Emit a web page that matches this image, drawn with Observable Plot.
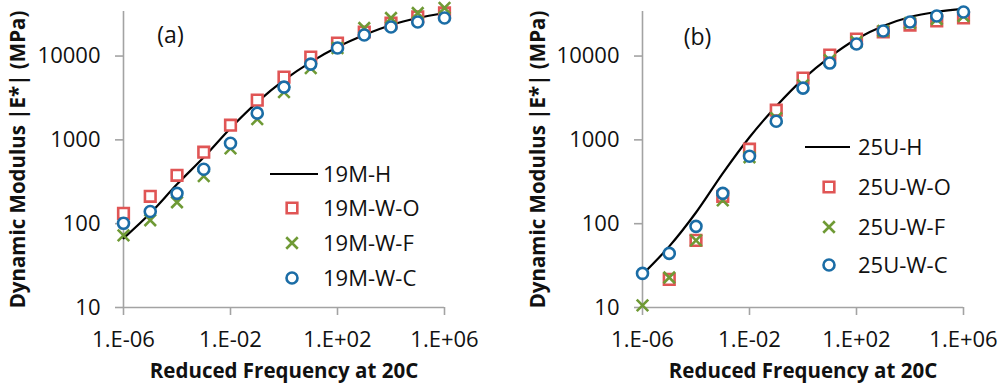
<!DOCTYPE html>
<html><head><meta charset="utf-8">
<script src="https://cdn.jsdelivr.net/npm/d3@7"></script>
<script src="https://cdn.jsdelivr.net/npm/@observablehq/plot@0.6"></script>
<style>
html,body{margin:0;padding:0;background:#fff;}
#wrap{position:relative;width:1003px;height:389px;overflow:hidden;background:#fff;}
#pa,#pb{position:absolute;top:0;}
#pa{left:0;} #pb{left:501px;}
</style></head><body><div id="wrap"><div id="pa"></div><div id="pb"></div></div>
<script>
// Reduced frequency (Hz) at 20C, one point per decade
const freq = [1e-6,1e-5,1e-4,1e-3,1e-2,1e-1,1e0,1e1,1e2,1e3,1e4,1e5,1e6];

// Panel (a) 19M
const a_H = [66.8,133,295,620,1378,2818,5165,8475,12810,17820,23450,28450,32640];
const a_O = [133,212,378,712,1497,2979,5610,9725,14290,19360,24790,29240,32640];
const a_F = [72.5,110,180,370,790,1766,3714,7180,12460,21600,28450,32640,37470];
const a_C = [101,140,230,446,912,2083,4260,8020,12460,17820,22210,25480,28450];

// Panel (b) 25U
const b_H = [24.8,53.6,136,399,1076,2525,5310,9725,15960,22820,29240,33570,36460];
const b_O = [null,21.6,63.2,212,773,2262,5458,10280,15960,19360,23450,26200,28450];
const b_F = [10.6,22.8,63.2,190,620,1815,4500,8950,14700,19900,24790,27670,30060];
const b_C = [25.5,44.2,92.9,230,638,1671,4145,8245,13900,19900,25480,30060,33570];

const seriesA = ["19M-H","19M-W-O","19M-W-F","19M-W-C"];
const seriesB = ["25U-H","25U-W-O","25U-W-F","25U-W-C"];

const xTicks = [1e-6,1e-2,1e2,1e6];
const xTickLabels = ["1.E-06","1.E-02","1.E+02","1.E+06"];
const yTicks = [10,100,1000,10000];
const yTickLabels = ["10","100","1000","10000"];

const xTitle = "Reduced Frequency at 20C";
const yTitle = "Dynamic Modulus |E*| (MPa)";

const RED = "#E05555", GREEN = "#6F9A35", BLUE = "#1B6DA6", AXIS = "#A3A3A3";
const FONT = "'Open Sans', sans-serif";
const R_SQ = 6.0, R_X = 5.3, R_C = 5.5, SW = 2.6;

const rows = vals => freq.map((f,i)=>({f, v: vals[i]})).filter(d => d.v != null);

function panel(el, cfg){
  const W = 501, H = 389;
  const fmtX = d => xTickLabels[xTicks.indexOf(d)];
  const fmtY = d => yTickLabels[yTicks.indexOf(d)];
  const chart = Plot.plot({
    width: W, height: H,
    marginLeft: cfg.ml, marginRight: W - cfg.ml - 321, marginTop: 11, marginBottom: 82,
    style: {fontFamily: FONT, fontSize: "22px", color: "#111", background: "#fff"},
    x: {type: "log", domain: [1e-6, 1e6]},
    y: {type: "log", domain: [10, 34000]},
    marks: [
      Plot.ruleX([1e-6], {stroke: AXIS, strokeWidth: 1.6}),
      Plot.ruleY([10], {stroke: AXIS, strokeWidth: 1.6}),
      Plot.axisY({ticks: yTicks, tickFormat: fmtY, tickSize: 8, tickPadding: 15, stroke: AXIS, strokeWidth: 1.6, fill: "#111", fontSize: 22, label: null}),
      Plot.axisX({ticks: xTicks, tickFormat: fmtX, tickSize: 8, tickPadding: 16, stroke: AXIS, strokeWidth: 1.6, fill: "#111", fontSize: 22, label: null}),
      Plot.text([xTitle], {frameAnchor: "bottom", dy: 63.5, textAnchor: "middle", lineAnchor: "middle", fontSize: 20.5, fontWeight: "bold", fill: "#111"}),
      Plot.text([yTitle], {frameAnchor: "left", dx: cfg.ytdx, rotate: -90, textAnchor: "middle", lineAnchor: "middle", fontSize: 20.5, fontWeight: "bold", fill: "#111"}),
      Plot.text([cfg.tag], {frameAnchor: "top-left", dx: cfg.tagDx, dy: cfg.tagDy, textAnchor: "middle", lineAnchor: "middle", fontSize: 23, fill: "#111"}),
      Plot.line(rows(cfg.H), {x: "f", y: "v", stroke: "#000", strokeWidth: 2.2, curve: "catmull-rom"}),
      Plot.dot(rows(cfg.O), {x: "f", y: "v", symbol: "square", r: R_SQ, stroke: RED, fill: "#fff", strokeWidth: SW}),
      Plot.dot(rows(cfg.F), {x: "f", y: "v", symbol: "times", r: R_X, stroke: GREEN, strokeWidth: SW}),
      Plot.dot(rows(cfg.C), {x: "f", y: "v", symbol: "circle", r: R_C, stroke: BLUE, fill: "#fff", strokeWidth: SW})
    ]
  });
  // legend
  const svg = d3.select(chart);
  const g = svg.append("g").attr("class", "legend").attr("font-family", FONT).attr("font-size", 22)
    .attr("fill", "#111").attr("text-anchor", "start");
  const L = cfg.leg;
  g.append("line").attr("x1", L.x0).attr("x2", L.x1).attr("y1", L.ys[0]).attr("y2", L.ys[0]).attr("stroke", "#000").attr("stroke-width", 2.2);
  const sym = [
    {t: d3.symbolSquare, r: R_SQ, stroke: RED, fill: "#fff"},
    {t: d3.symbolTimes, r: R_X, stroke: GREEN, fill: "none"},
    {t: d3.symbolCircle, r: R_C, stroke: BLUE, fill: "#fff"}
  ];
  sym.forEach((s,i) => {
    const y = L.ys[i+1];
    if (s.t === d3.symbolCircle) {
      g.append("circle").attr("cx", L.mx).attr("cy", y).attr("r", s.r).attr("stroke", s.stroke).attr("fill", s.fill).attr("stroke-width", SW);
    } else {
      g.append("path").attr("transform", `translate(${L.mx},${y})`).attr("d", d3.symbol(s.t, s.r*s.r*Math.PI)()).attr("stroke", s.stroke).attr("fill", s.fill).attr("stroke-width", SW);
    }
  });
  cfg.names.forEach((n,i) => {
    g.append("text").attr("x", L.tx).attr("y", L.ys[i]).attr("dy", "0.35em").attr("text-anchor", "start").text(n);
  });
  document.getElementById(el).appendChild(chart);
}

panel("pa", {ml: 123, ytdx: -105, tag: "(a)", tagDx: 47, tagDy: 24,
  H: a_H, O: a_O, F: a_F, C: a_C, names: seriesA,
  leg: {x0: 270, x1: 318, mx: 292, tx: 323, ys: [174, 208, 243, 278]}});
panel("pb", {ml: 141, ytdx: -104, tag: "(b)", tagDx: 55, tagDy: 26,
  H: b_H, O: b_O, F: b_F, C: b_C, names: seriesB,
  leg: {x0: 304, x1: 349, mx: 328, tx: 357, ys: [147, 187, 227, 265]}});
</script></body></html>
